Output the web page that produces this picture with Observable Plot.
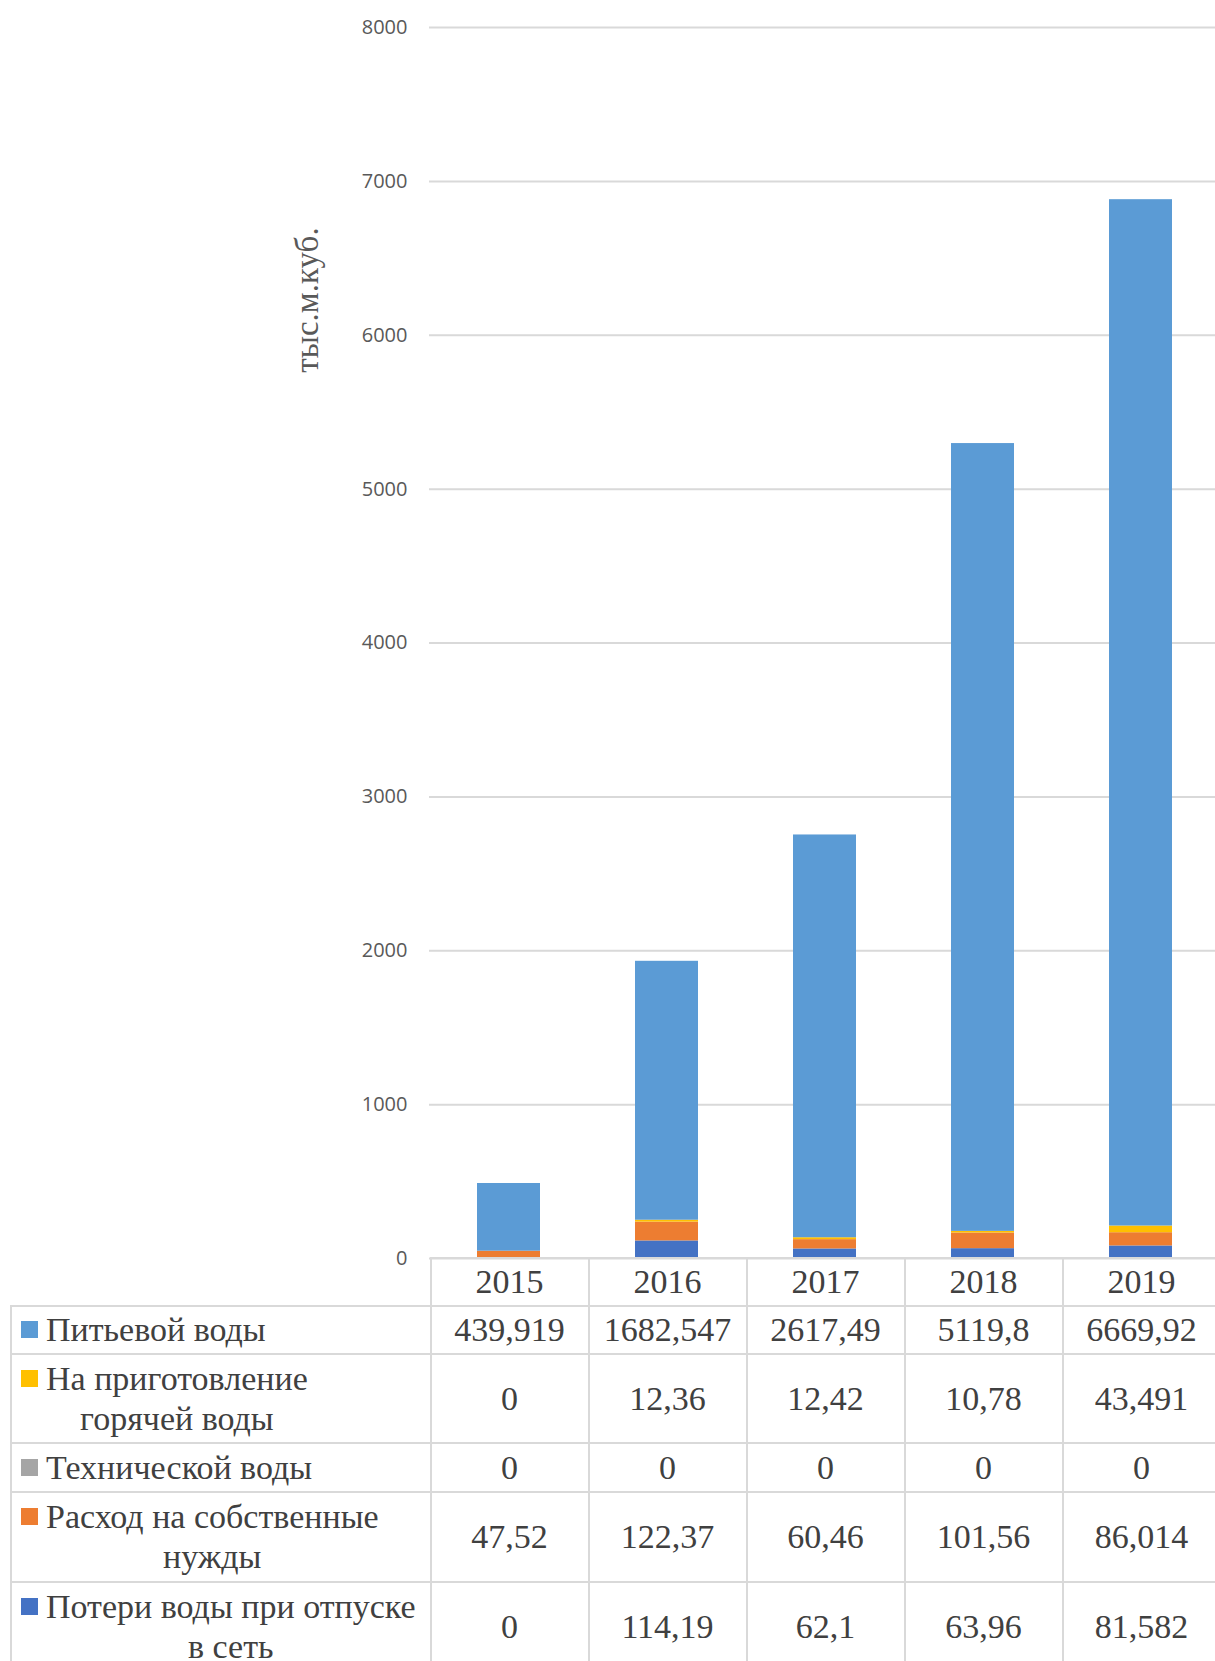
<!DOCTYPE html>
<html>
<head>
<meta charset="utf-8">
<script src="https://cdn.jsdelivr.net/npm/d3@7"></script>
<script src="https://cdn.jsdelivr.net/npm/@observablehq/plot@0.6"></script>
<style>
  html, body { margin: 0; padding: 0; background: #ffffff; }
  body { width: 1215px; height: 1661px; overflow: hidden; position: relative; }
  #chart { position: absolute; left: 0; top: 0; }
  #chart svg { display: block; overflow: visible; }
  #ylabel {
    position: absolute; left: 307px; top: 300px;
    transform: translate(-50%, -50%) rotate(-90deg);
    font-family: "Liberation Serif", "Times New Roman", serif;
    font-size: 33px; color: #595959; white-space: nowrap;
  }
  table.dt {
    position: absolute; top: 1257px; left: 10px;
    border-collapse: collapse; table-layout: fixed;
    font-family: "Liberation Serif", "Times New Roman", serif;
    font-size: 34px; color: #404040;
  }
  table.dt td {
    border: 2px solid #d9d9d9; padding: 0; text-align: center;
    vertical-align: middle; white-space: nowrap; line-height: 40px;
    box-sizing: border-box;
  }
  table.dt td.blank { border-top: none; border-left: none; }
  table.dt td.leg { text-align: left; vertical-align: middle; }
  .legwrap { display: flex; align-items: flex-start; padding-left: 9px; }
  .key { width: 17px; height: 17px; flex: none; margin-top: 11px; margin-right: 8px; }
  .legtext { display: inline-block; text-align: center; }
</style>
</head>
<body>
<div id="chart"></div>
<div id="ylabel"></div>
<script>
// ---- Data ----
const years = ["2015", "2016", "2017", "2018", "2019"];
const seriesNames = [
  "Питьевой воды",
  "На приготовление горячей воды",
  "Технической воды",
  "Расход на собственные нужды",
  "Потери воды при отпуске в сеть"
];
const seriesLines = [
  ["Питьевой воды"],
  ["На приготовление", "горячей воды"],
  ["Технической воды"],
  ["Расход на собственные", "нужды"],
  ["Потери воды при отпуске", "в сеть"]
];
const drinking  = [439.919, 1682.547, 2617.49, 5119.8, 6669.92];
const hotWater  = [0, 12.36, 12.42, 10.78, 43.491];
const technical = [0, 0, 0, 0, 0];
const ownNeeds  = [47.52, 122.37, 60.46, 101.56, 86.014];
const losses    = [0, 114.19, 62.1, 63.96, 81.582];
const seriesColors = ["#5B9BD5", "#FFC000", "#A5A5A5", "#ED7D31", "#4472C4"];
const yTicks = [0, 1000, 2000, 3000, 4000, 5000, 6000, 7000, 8000];
const yLabel = "тыс.м.куб.";

// table rows (top to bottom) follow seriesNames order
const seriesValues = [drinking, hotWater, technical, ownNeeds, losses];

// stack from bottom: losses, own needs, technical, hot water, drinking
const stackOrder = [4, 3, 2, 1, 0];
const rows = [];
for (const si of stackOrder) {
  years.forEach((yr, i) => rows.push({ year: yr, series: seriesNames[si], value: seriesValues[si][i] }));
}

const chart = Plot.plot({
  width: 1215,
  height: 1260,
  marginLeft: 429,
  marginRight: -6,
  marginTop: 27,
  marginBottom: 2,
  style: { fontFamily: "'Open Sans', sans-serif", background: "#ffffff" },
  x: { domain: years, paddingInner: 0.6, paddingOuter: 0.3, axis: null },
  y: { domain: [0, 8000], ticks: yTicks },
  color: { domain: seriesNames, range: seriesColors },
  marks: [
    Plot.gridY(yTicks, { stroke: "#d9d9d9", strokeOpacity: 1, strokeWidth: 2 }),
    Plot.barY(rows, Plot.stackY({ order: null }, { x: "year", y: "value", fill: "series" })),
    Plot.axisY(yTicks, {
      tickSize: 0, tickPadding: 22, fontSize: 20, fill: "#595959",
      tickFormat: d => String(d), label: null
    })
  ]
});
document.getElementById("chart").appendChild(chart);
document.getElementById("ylabel").textContent = yLabel;

// ---- Data table aligned with the x scale ----
const xs = chart.scale("x");
const step = xs.step;
const colLeft = years.map(y => xs.apply(y) - (step - xs.bandwidth) / 2);
const tableLeft = 10;
const firstColW = colLeft[0] - tableLeft;

const tbl = document.createElement("table");
tbl.className = "dt";
const cg = document.createElement("colgroup");
const c0 = document.createElement("col"); c0.style.width = firstColW + "px"; cg.appendChild(c0);
years.forEach(() => { const c = document.createElement("col"); c.style.width = step + "px"; cg.appendChild(c); });
tbl.appendChild(cg);
tbl.style.width = (firstColW + step * years.length) + "px";

const rowHeights = [48, 48, 89, 49, 90, 90];
// header (years)
const hr = document.createElement("tr");
hr.style.height = rowHeights[0] + "px";
const blank = document.createElement("td"); blank.className = "blank"; hr.appendChild(blank);
years.forEach(y => { const td = document.createElement("td"); td.textContent = y; hr.appendChild(td); });
tbl.appendChild(hr);

seriesNames.forEach((name, si) => {
  const tr = document.createElement("tr");
  tr.style.height = rowHeights[si + 1] + "px";
  const lt = document.createElement("td"); lt.className = "leg";
  const wrap = document.createElement("div"); wrap.className = "legwrap";
  const key = document.createElement("span"); key.className = "key"; key.style.background = seriesColors[si];
  const txt = document.createElement("span"); txt.className = "legtext";
  txt.innerHTML = seriesLines[si].join("<br>");
  wrap.appendChild(key); wrap.appendChild(txt); lt.appendChild(wrap); tr.appendChild(lt);
  seriesValues[si].forEach(v => {
    const td = document.createElement("td");
    td.textContent = String(v).replace(".", ",");
    tr.appendChild(td);
  });
  tbl.appendChild(tr);
});
document.body.appendChild(tbl);
</script>
</body>
</html>
